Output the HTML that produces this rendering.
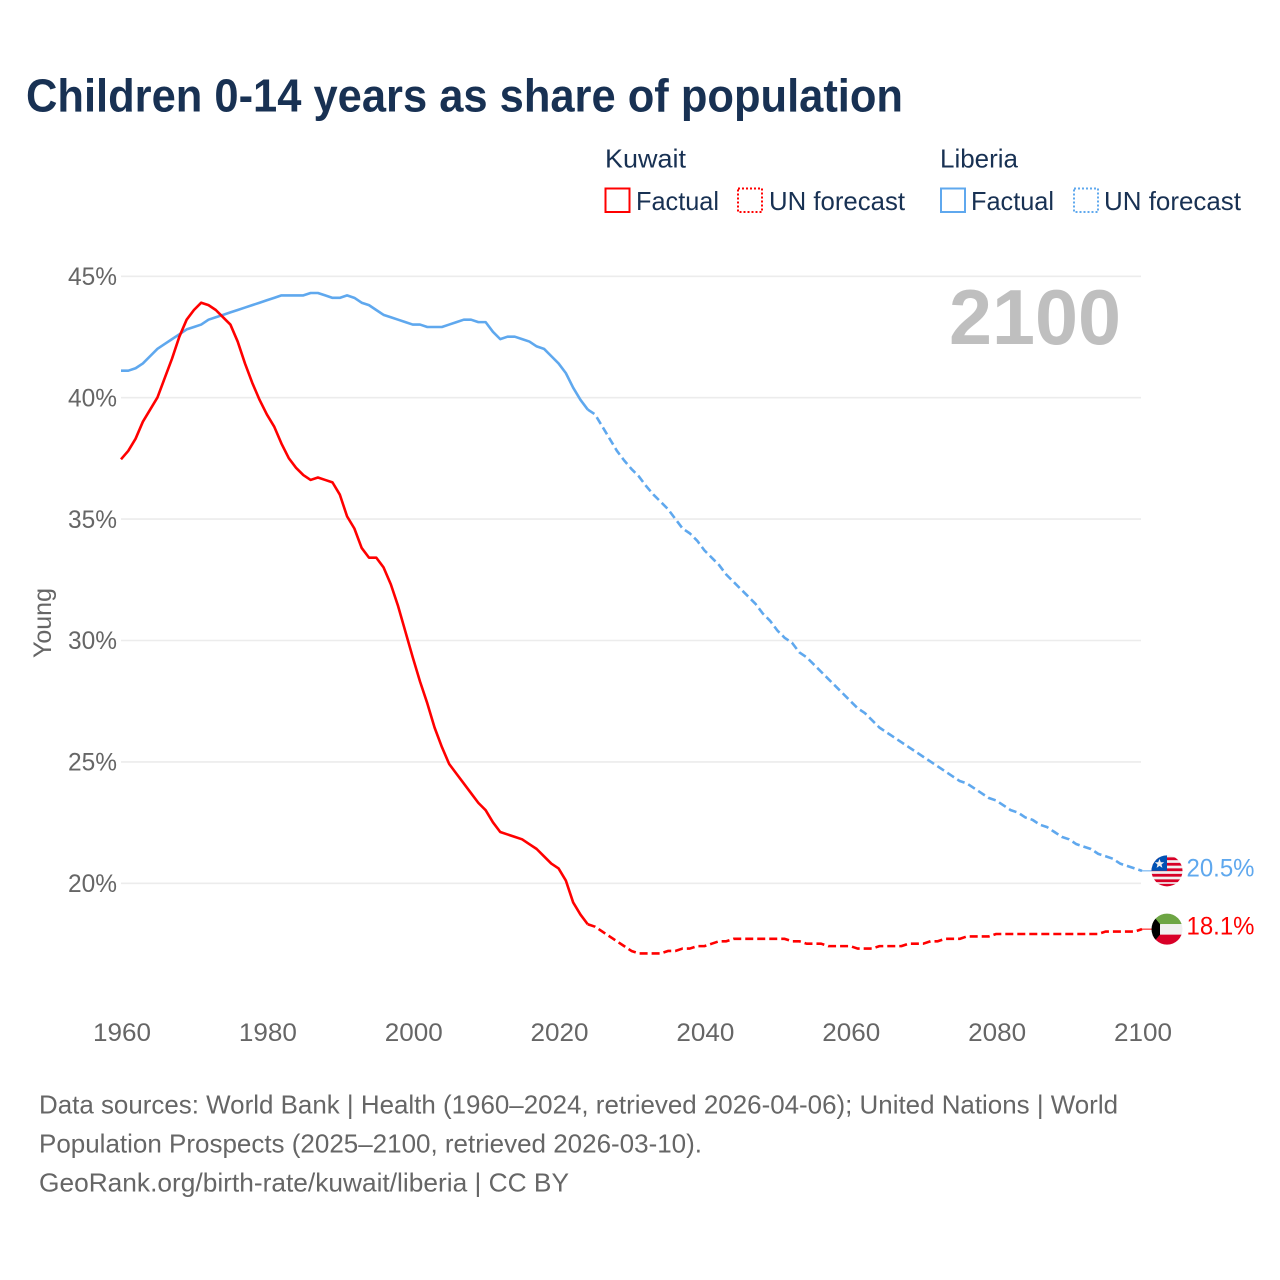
<!DOCTYPE html>
<html lang="en">
<head>
<meta charset="utf-8">
<title>Children 0-14 years as share of population</title>
<style>
  html, body { margin: 0; padding: 0; background: #fff; }
  svg { display: block; font-family: "Liberation Sans", sans-serif; }
</style>
</head>
<body>
<svg id="chart" xmlns="http://www.w3.org/2000/svg" width="1280" height="1280" viewBox="0 0 1280 1280">
  <rect width="1280" height="1280" fill="#ffffff"/>
  <text x="26" y="111.500" font-size="46" font-weight="700" fill="#183153" textLength="877" lengthAdjust="spacingAndGlyphs">Children 0-14 years as share of population</text>

  <g font-size="26" fill="#183153">
    <text x="605" y="167.500" textLength="81" lengthAdjust="spacingAndGlyphs">Kuwait</text>
    <rect x="605.500" y="188.500" width="24" height="23.500" fill="none" stroke="#ff0000" stroke-width="2"/>
    <text x="636" y="210" textLength="83" lengthAdjust="spacingAndGlyphs">Factual</text>
    <rect x="738" y="188.500" width="24" height="23.500" fill="none" stroke="#ff0000" stroke-width="2" stroke-dasharray="2 2"/>
    <text x="769" y="210" textLength="136" lengthAdjust="spacingAndGlyphs">UN forecast</text>
    <text x="940" y="167.500" textLength="78" lengthAdjust="spacingAndGlyphs">Liberia</text>
    <rect x="941" y="188.500" width="24" height="23.500" fill="none" stroke="#5fa8ee" stroke-width="2"/>
    <text x="971" y="210" textLength="83" lengthAdjust="spacingAndGlyphs">Factual</text>
    <rect x="1074" y="188.500" width="24" height="23.500" fill="none" stroke="#5fa8ee" stroke-width="2" stroke-dasharray="2 2"/>
    <text x="1104" y="210" textLength="137" lengthAdjust="spacingAndGlyphs">UN forecast</text>
  </g>

  <g id="grid"></g>
  <text x="949" y="344" font-size="78" font-weight="700" fill="#bfbfbf" textLength="172" lengthAdjust="spacingAndGlyphs">2100</text>
  <g id="yaxis"></g>
  <g id="xaxis"></g>
  <text transform="translate(51,658) rotate(-90)" font-size="25" fill="#666666" textLength="70" lengthAdjust="spacingAndGlyphs">Young</text>
  <g id="series"></g>
  <g id="endpoints"></g>

  <g font-size="26" fill="#666666">
    <text x="39" y="1113.500" textLength="1079" lengthAdjust="spacingAndGlyphs">Data sources: World Bank | Health (1960–2024, retrieved 2026-04-06); United Nations | World</text>
    <text x="39" y="1152.500" textLength="663" lengthAdjust="spacingAndGlyphs">Population Prospects (2025–2100, retrieved 2026-03-10).</text>
    <text x="39" y="1191.500" textLength="530" lengthAdjust="spacingAndGlyphs">GeoRank.org/birth-rate/kuwait/liberia | CC BY</text>
  </g>
</svg>
<script>
const yTickValues = [20, 25, 30, 35, 40, 45];
const xTickValues = [1960, 1980, 2000, 2020, 2040, 2060, 2080, 2100];
const factualStartYear = 1960;
const forecastStartYear = 2024;

const kuwaitFactual = [
  37.45, 37.8, 38.3, 39.0, 39.5, 40.0, 40.8, 41.6, 42.5, 43.2,
  43.6, 43.9, 43.8, 43.6, 43.3, 43.0, 42.3, 41.4, 40.6, 39.9,
  39.3, 38.8, 38.1, 37.5, 37.1, 36.8, 36.6, 36.7, 36.6, 36.5,
  36.0, 35.1, 34.6, 33.8, 33.4, 33.4, 33.0, 32.3, 31.4, 30.35,
  29.3, 28.3, 27.4, 26.4, 25.6, 24.9, 24.5, 24.1, 23.7, 23.3,
  23.0, 22.5, 22.1, 22.0, 21.9, 21.8, 21.6, 21.4, 21.1, 20.8,
  20.6, 20.1, 19.2, 18.7, 18.3
];
const kuwaitForecast = [
  18.3, 18.2, 18.0, 17.8, 17.6, 17.4,
  17.2, 17.1, 17.1, 17.1, 17.1, 17.2, 17.2, 17.3, 17.3, 17.4,
  17.4, 17.5, 17.6, 17.6, 17.7, 17.7, 17.7, 17.7, 17.7, 17.7,
  17.7, 17.7, 17.6, 17.6, 17.5, 17.5, 17.5, 17.4, 17.4, 17.4,
  17.4, 17.3, 17.3, 17.3, 17.4, 17.4, 17.4, 17.4, 17.5, 17.5,
  17.5, 17.6, 17.6, 17.7, 17.7, 17.7, 17.8, 17.8, 17.8, 17.8,
  17.9, 17.9, 17.9, 17.9, 17.9, 17.9, 17.9, 17.9, 17.9, 17.9,
  17.9, 17.9, 17.9, 17.9, 17.9, 18.0, 18.0, 18.0, 18.0, 18.0,
  18.1
];
const liberiaFactual = [
  41.1, 41.1, 41.2, 41.4, 41.7, 42.0, 42.2, 42.4, 42.6, 42.8,
  42.9, 43.0, 43.2, 43.3, 43.4, 43.5, 43.6, 43.7, 43.8, 43.9,
  44.0, 44.1, 44.2, 44.2, 44.2, 44.2, 44.3, 44.3, 44.2, 44.1,
  44.1, 44.2, 44.1, 43.9, 43.8, 43.6, 43.4, 43.3, 43.2, 43.1,
  43.0, 43.0, 42.9, 42.9, 42.9, 43.0, 43.1, 43.2, 43.2, 43.1,
  43.1, 42.7, 42.4, 42.5, 42.5, 42.4, 42.3, 42.1, 42.0, 41.7,
  41.4, 41.0, 40.4, 39.9, 39.5
];
const liberiaForecast = [
  39.5, 39.3, 38.8, 38.3, 37.8, 37.4,
  37.05, 36.75, 36.35, 36.0, 35.7, 35.4, 35.0, 34.6, 34.4, 34.1,
  33.7, 33.4, 33.1, 32.7, 32.4, 32.1, 31.8, 31.5, 31.1, 30.8,
  30.4, 30.1, 29.9, 29.5, 29.3, 29.0, 28.7, 28.4, 28.1, 27.8,
  27.5, 27.2, 27.0, 26.7, 26.4, 26.2, 26.0, 25.8, 25.6, 25.4,
  25.2, 25.0, 24.8, 24.6, 24.4, 24.2, 24.1, 23.9, 23.7, 23.5,
  23.4, 23.2, 23.0, 22.9, 22.7, 22.6, 22.4, 22.3, 22.1, 21.9,
  21.8, 21.6, 21.5, 21.4, 21.2, 21.1, 21.0, 20.8, 20.7, 20.6,
  20.5
];

const NS = 'http://www.w3.org/2000/svg';
function xScale(year) { return 121 + (year - 1960) * (1142 - 121) / 140; }
function yScale(pct) { return 883 - (pct - 20) * (883 - 276) / 25; }
function mk(tag, attrs, parent) {
  const el = document.createElementNS(NS, tag);
  for (const k in attrs) el.setAttribute(k, attrs[k]);
  parent.appendChild(el);
  return el;
}
function linePath(values, startYear) {
  return values.map(function (v, i) {
    return (i ? 'L' : 'M') + xScale(startYear + i).toFixed(2) + ' ' + yScale(v).toFixed(2);
  }).join(' ');
}

const grid = document.getElementById('grid');
const yaxis = document.getElementById('yaxis');
yTickValues.forEach(function (v) {
  const line = mk('line', { x1: xScale(1960), x2: xScale(2100) - 1, y1: yScale(v) + 0.3, y2: yScale(v) + 0.3, stroke: '#ececec', 'stroke-width': 1.6 }, grid);
  
  
  const t = mk('text', { x: 117, y: yScale(v) + 9, 'text-anchor': 'end', 'font-size': 25, fill: '#666666', textLength: 49, lengthAdjust: 'spacingAndGlyphs' }, yaxis);
  t.textContent = v + '%';
  
  
});

const xaxis = document.getElementById('xaxis');
xTickValues.forEach(function (y) {
  const t = mk('text', { x: xScale(y) - 28, y: 1041, 'font-size': 25, fill: '#666666', textLength: 58, lengthAdjust: 'spacingAndGlyphs' }, xaxis);
  t.textContent = String(y);
  
  
});

const seriesGroup = document.getElementById('series');
const liberiaFactualLine = mk('path', { d: linePath(liberiaFactual, factualStartYear), fill: 'none', stroke: '#5fa8ee', 'stroke-width': 2.6, 'stroke-linejoin': 'round' }, seriesGroup);


const liberiaForecastLine = mk('path', { d: linePath(liberiaForecast, forecastStartYear), fill: 'none', stroke: '#5fa8ee', 'stroke-width': 2.6, 'stroke-dasharray': '8 4', 'stroke-linejoin': 'round' }, seriesGroup);


const kuwaitFactualLine = mk('path', { d: linePath(kuwaitFactual, factualStartYear), fill: 'none', stroke: '#ff0000', 'stroke-width': 2.6, 'stroke-linejoin': 'round' }, seriesGroup);


const kuwaitForecastLine = mk('path', { d: linePath(kuwaitForecast, forecastStartYear), fill: 'none', stroke: '#ff0000', 'stroke-width': 2.6, 'stroke-dasharray': '8 4', 'stroke-linejoin': 'round' }, seriesGroup);



const endpoints = document.getElementById('endpoints');
const defs = mk('defs', {}, endpoints);
const clip = mk('clipPath', { id: 'flag-clip' }, defs);
mk('circle', { cx: 0, cy: 0, r: 15.5 }, clip);
const flagX = xScale(2100) + 25;

function drawEnd(values, color) {
  const last = values[values.length - 1];
  const py = yScale(last);
  const connector = mk('line', { x1: xScale(2100), y1: py, x2: flagX - 14, y2: py, stroke: color, 'stroke-width': 1 }, endpoints);
  const group = mk('g', { transform: 'translate(' + flagX + ',' + py + ')', 'clip-path': 'url(#flag-clip)' }, endpoints);
  const label = mk('text', { x: flagX + 19.5, y: py + 5.5, 'font-size': 25, fill: color, textLength: 68, lengthAdjust: 'spacingAndGlyphs' }, endpoints);
  label.textContent = last.toFixed(1) + '%';
  return { connector: connector, group: group, label: label };
}

const liberiaEnd = drawEnd(liberiaForecast, '#5fa8ee');






mk('rect', { x: -16, y: -16, width: 32, height: 32, fill: '#f0f0f0' }, liberiaEnd.group);
[-13.5, -8, -2.5, 3, 8.5, 13].forEach(function (sy) {
  mk('rect', { x: -16, y: sy, width: 32, height: 2.8, fill: '#d80027' }, liberiaEnd.group);
});
mk('rect', { x: -16, y: -16, width: 16, height: 16, fill: '#0052b4' }, liberiaEnd.group);
mk('polygon', { points: '-7.500,-12 -6.200,-8.600 -2.800,-8.600 -5.500,-6.400 -4.600,-3 -7.500,-5 -10.400,-3 -9.500,-6.400 -12.200,-8.600 -8.800,-8.600', fill: '#f0f0f0' }, liberiaEnd.group);

const kuwaitEnd = drawEnd(kuwaitForecast, '#ff0000');






mk('rect', { x: -16, y: -16, width: 32, height: 11, fill: '#6da544' }, kuwaitEnd.group);
mk('rect', { x: -16, y: -5, width: 32, height: 10.500, fill: '#f0f0f0' }, kuwaitEnd.group);
mk('rect', { x: -16, y: 5.500, width: 32, height: 11, fill: '#d80027' }, kuwaitEnd.group);
mk('polygon', { points: '-16,-16 -7,-5 -7,5.500 -16,16', fill: '#000000' }, kuwaitEnd.group);
</script>
</body>
</html>
